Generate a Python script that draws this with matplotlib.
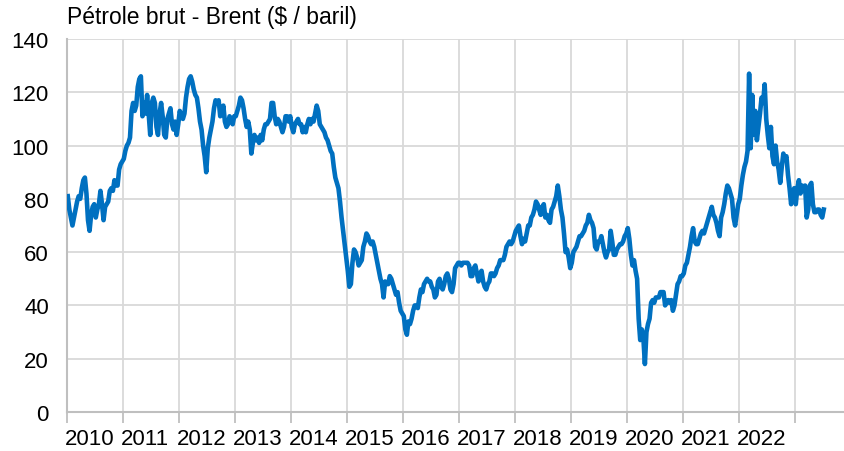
import numpy as np
import matplotlib
matplotlib.use("Agg")
import matplotlib.pyplot as plt
import matplotlib.transforms as mtransforms

plt.rcParams['font.family'] = ['Liberation Sans', 'DejaVu Sans']

# Brent, $/baril, three readings per month (early / mid / late)
brent_2010 = [81, 76, 73, 70, 73, 76, 79, 81, 80, 84, 87, 88, 82, 72, 68, 74, 77, 78,
              73, 76, 78, 83, 78, 72, 77, 78, 79, 83, 84, 83, 87, 85, 85, 91, 93, 94]
brent_2011 = [95, 98, 100, 101, 103, 113, 116, 113, 115, 122, 125, 126, 111, 116, 112, 119, 112, 104,
              116, 118, 116, 107, 104, 112, 116, 111, 104, 103, 110, 112, 114, 108, 106, 109, 104, 108]
brent_2012 = [113, 111, 110, 112, 118, 122, 125, 126, 124, 121, 119, 118, 114, 109, 106, 100, 96, 90,
              99, 103, 106, 109, 114, 117, 116, 117, 111, 112, 115, 109, 107, 108, 111, 110, 108, 111]
brent_2013 = [111, 113, 115, 118, 117, 114, 110, 107, 109, 106, 97, 101, 104, 102, 103, 101, 104, 102,
              106, 108, 108, 109, 110, 116, 116, 111, 108, 110, 109, 107, 105, 107, 111, 111, 109, 111]
brent_2014 = [107, 105, 108, 109, 110, 108, 108, 105, 107, 105, 108, 110, 108, 110, 109, 112, 115, 113,
              108, 107, 106, 105, 103, 102, 100, 98, 97, 92, 88, 86, 84, 79, 73, 68, 63, 58]
brent_2015 = [53, 47, 48, 56, 61, 60, 58, 55, 56, 57, 62, 64, 67, 66, 64, 63, 64, 62,
              59, 56, 53, 50, 48, 43, 49, 48, 48, 51, 50, 48, 46, 44, 45, 41, 38, 37]
brent_2016 = [36, 31, 29, 34, 33, 35, 38, 40, 40, 39, 43, 46, 45, 48, 49, 50, 49, 49,
              47, 46, 43, 44, 49, 50, 47, 46, 48, 51, 52, 50, 46, 45, 48, 54, 55, 56]
brent_2017 = [56, 55, 56, 56, 56, 56, 55, 51, 51, 54, 55, 52, 49, 52, 53, 49, 47, 46,
              48, 49, 52, 52, 51, 52, 54, 55, 57, 57, 57, 59, 62, 63, 64, 63, 64, 66]
brent_2018 = [68, 69, 70, 66, 63, 65, 64, 67, 70, 70, 73, 74, 76, 79, 78, 76, 74, 77,
              78, 73, 74, 72, 71, 76, 77, 79, 81, 85, 81, 76, 73, 67, 60, 61, 58, 54]
brent_2019 = [56, 60, 61, 62, 64, 66, 66, 67, 68, 70, 71, 74, 72, 71, 69, 62, 61, 64,
              64, 66, 63, 60, 58, 60, 61, 68, 64, 59, 59, 61, 62, 63, 63, 64, 66, 67]
brent_2020 = [69, 65, 59, 55, 57, 53, 50, 35, 27, 31, 28, 18, 30, 33, 35, 41, 42, 41,
              43, 43, 43, 45, 45, 45, 40, 41, 42, 41, 42, 38, 40, 44, 48, 49, 51, 51]
brent_2021 = [52, 55, 56, 59, 62, 66, 69, 64, 63, 63, 65, 67, 68, 67, 69, 71, 73, 75,
              77, 74, 73, 71, 68, 66, 73, 75, 78, 82, 85, 84, 82, 80, 73, 70, 74, 78]
brent_2022 = [80, 85, 89, 92, 94, 98, 127, 99, 119, 104, 113, 102, 107, 112, 118, 116, 123, 110,
              104, 99, 107, 96, 93, 100, 94, 91, 86, 92, 97, 95, 96, 89, 84, 78, 82, 84]
brent_2023 = [78, 84, 87, 82, 85, 83, 85, 73, 76, 85, 86, 78, 75, 75, 76, 76, 74, 73, 76]

years = list(range(2010, 2024))
series = [brent_2010, brent_2011, brent_2012, brent_2013, brent_2014, brent_2015, brent_2016,
          brent_2017, brent_2018, brent_2019, brent_2020, brent_2021, brent_2022, brent_2023]

year_labels = ['2010', '2011', '2012', '2013', '2014', '2015', '2016',
               '2017', '2018', '2019', '2020', '2021', '2022', '']
title = "Pétrole brut - Brent ($ / baril)"

x = np.concatenate([yr + (np.arange(len(v)) + 0.5) / 36 for yr, v in zip(years, series)])
y = np.concatenate([np.array(v, dtype=float) for v in series])

W, H = 844, 452
fig = plt.figure(figsize=(W / 100, H / 100), dpi=100)
ax = fig.add_axes([67 / W, 1 - 413 / H, (W - 67) / W, (413 - 40) / H])

ax.plot(x, y, color='#0070C0', lw=3.3, solid_joinstyle='round', zorder=3)

ax.set_xlim(2010, 2023.875)
ax.set_ylim(0, 140)
ax.set_yticks(np.arange(0, 141, 20))
ax.set_xticks(years)
ax.set_xticklabels(year_labels)
ax.grid(True, color='#D9D9D9', lw=1.3)
ax.set_axisbelow(True)

for side in ['top', 'right']:
    ax.spines[side].set_visible(False)
for side in ['left', 'bottom']:
    ax.spines[side].set_color('#BFBFBF')
    ax.spines[side].set_linewidth(1.5)

ax.tick_params(axis='y', length=0, pad=13, labelsize=16, colors='black')
ax.tick_params(axis='x', length=8, width=1.3, color='#BFBFBF', pad=3.5,
               labelsize=16, labelcolor='black')

# year labels sit just right of their tick
offset = mtransforms.ScaledTranslation(-2 / 100, 0, fig.dpi_scale_trans)
for lab in ax.get_xticklabels():
    lab.set_horizontalalignment('left')
    lab.set_transform(lab.get_transform() + offset)

fig.text(67 / W, 1 - 24 / H, title, fontsize=16.5, ha='left', va='baseline')

fig.savefig('out.png', dpi=100)
